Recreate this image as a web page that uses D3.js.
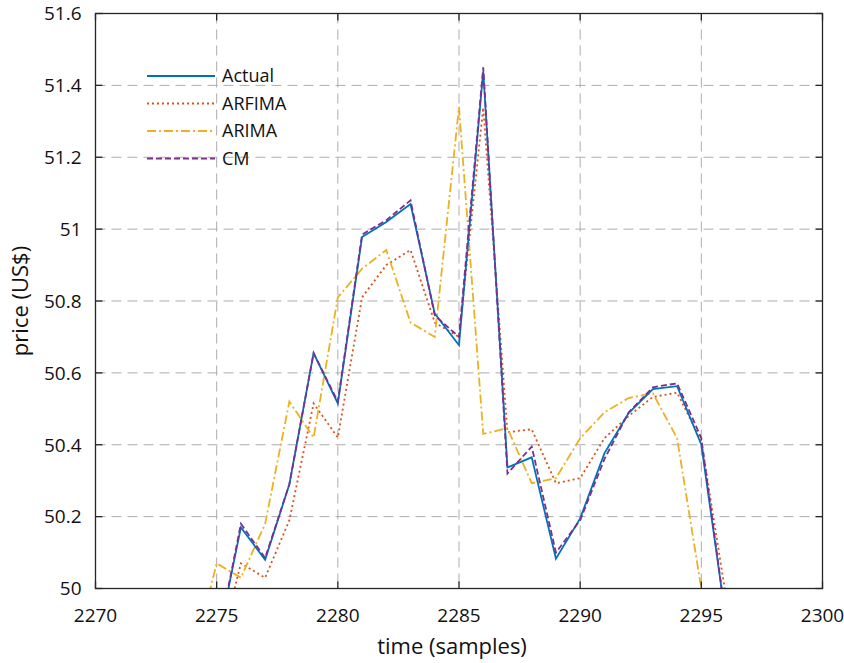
<!DOCTYPE html>
<html>
<head>
<meta charset="utf-8">
<script src="https://cdn.jsdelivr.net/npm/d3@7"></script>
<style>
  html, body { margin: 0; padding: 0; background: #fff; }
  svg { display: block; font-family: "Open Sans", "Noto Sans", sans-serif; }
</style>
</head>
<body>
<svg id="chart" width="844" height="663"></svg>
<script>
// Forecast comparison: price series against sample index
const samples = d3.range(2274, 2297);
const actual = [49.70, 49.84, 50.17, 50.08, 50.29, 50.655, 50.515, 50.978, 51.02, 51.07, 50.765, 50.677,
                51.44, 50.337, 50.365, 50.083, 50.195, 50.376, 50.488, 50.555, 50.563, 50.40, 49.92];
const arfima = [49.60, 49.80, 50.07, 50.03, 50.19, 50.515, 50.42, 50.81, 50.90, 50.942, 50.74, 50.70,
                51.338, 50.435, 50.443, 50.293, 50.307, 50.418, 50.48, 50.533, 50.545, 50.41, 49.985];
const arima = [49.80, 50.07, 50.03, 50.18, 50.52, 50.42, 50.81, 50.89, 50.942, 50.74, 50.70, 51.34,
               50.43, 50.446, 50.293, 50.307, 50.418, 50.49, 50.53, 50.543, 50.418, 50.0, 49.70];
const cm = [49.70, 49.84, 50.18, 50.085, 50.29, 50.655, 50.52, 50.985, 51.025, 51.08, 50.76, 50.70,
            51.45, 50.32, 50.395, 50.10, 50.19, 50.36, 50.49, 50.56, 50.571, 50.418, 49.92];

const xTicks = [2270, 2275, 2280, 2285, 2290, 2295, 2300];
const yTicks = [50, 50.2, 50.4, 50.6, 50.8, 51, 51.2, 51.4, 51.6];
const seriesNames = ["Actual", "ARFIMA", "ARIMA", "CM"];

const seriesStyle = {
  "Actual": { color: "#0072BD", dash: null },
  "ARFIMA": { color: "#D95319", dash: "2,3" },
  "ARIMA":  { color: "#EDB120", dash: "9,3,2,3" },
  "CM":     { color: "#7E2F8E", dash: "6,3" }
};
const seriesData = { "Actual": actual, "ARFIMA": arfima, "ARIMA": arima, "CM": cm };

const svg = d3.select("#chart");
const box = { left: 95.5, right: 822.5, top: 13.5, bottom: 588.5 };

const x = d3.scaleLinear().domain([2270, 2300]).range([box.left, box.right]);
const y = d3.scaleLinear().domain([50, 51.6]).range([box.bottom, box.top]);

// Grid
const grid = svg.append("g").attr("stroke", "#adadad").attr("stroke-width", 1)
  .attr("stroke-dasharray", "10,6");
xTicks.slice(1, -1).forEach(t => {
  grid.append("line").attr("x1", x(t)).attr("x2", x(t)).attr("y1", box.top).attr("y2", box.bottom);
});
yTicks.slice(1, -1).forEach(t => {
  grid.append("line").attr("x1", box.left).attr("x2", box.right).attr("y1", y(t)).attr("y2", y(t));
});

// Series lines, clipped to the plot box
svg.append("clipPath").attr("id", "plotclip")
  .append("rect").attr("x", box.left).attr("y", box.top)
  .attr("width", box.right - box.left).attr("height", box.bottom - box.top);

const lineGen = d3.line().x(d => x(d[0])).y(d => y(d[1]));
const plot = svg.append("g").attr("clip-path", "url(#plotclip)");
["ARFIMA", "ARIMA", "Actual", "CM"].forEach(name => {
  const pts = samples.map((s, i) => [s, seriesData[name][i]]);
  plot.append("path")
    .datum(pts)
    .attr("d", lineGen)
    .attr("fill", "none")
    .attr("stroke", seriesStyle[name].color)
    .attr("stroke-width", 1.8)
    .attr("stroke-dasharray", seriesStyle[name].dash)
    .attr("stroke-linejoin", "miter");
});

// Axes box with inward ticks
const axisColor = "#262626";
const tickLen = 7;
const ax = svg.append("g").attr("stroke", axisColor).attr("stroke-width", 1.3);
ax.append("rect").attr("x", box.left).attr("y", box.top)
  .attr("width", box.right - box.left).attr("height", box.bottom - box.top)
  .attr("fill", "none");
xTicks.forEach(t => {
  ax.append("line").attr("x1", x(t)).attr("x2", x(t)).attr("y1", box.bottom).attr("y2", box.bottom - tickLen);
  ax.append("line").attr("x1", x(t)).attr("x2", x(t)).attr("y1", box.top).attr("y2", box.top + tickLen);
});
yTicks.forEach(t => {
  ax.append("line").attr("x1", box.left).attr("x2", box.left + tickLen).attr("y1", y(t)).attr("y2", y(t));
  ax.append("line").attr("x1", box.right).attr("x2", box.right - tickLen).attr("y1", y(t)).attr("y2", y(t));
});

// Tick labels
const fmtY = d => (Number.isInteger(d) ? String(d) : d.toFixed(1));
svg.append("g").selectAll("text").data(yTicks).join("text")
  .attr("x", box.left - 14).attr("y", d => y(d)).attr("dy", "0.36em")
  .attr("text-anchor", "end").attr("font-size", 19).attr("fill", "#111")
  .text(fmtY);
svg.append("g").selectAll("text").data(xTicks).join("text")
  .attr("x", d => x(d)).attr("y", box.bottom + 33)
  .attr("text-anchor", "middle").attr("font-size", 19).attr("fill", "#111")
  .text(d => d);

// Axis titles
svg.append("text").attr("x", 452).attr("y", 654)
  .attr("text-anchor", "middle").attr("font-size", 22).attr("fill", "#111")
  .text("time (samples)");
svg.append("text").attr("transform", `translate(28,${(box.top + box.bottom) / 2}) rotate(-90)`)
  .attr("text-anchor", "middle").attr("font-size", 22).attr("fill", "#111")
  .text("price (US$)");

// Legend
const legend = svg.append("g");
seriesNames.forEach((name, i) => {
  const ly = 76 + i * 27.5;
  legend.append("line").attr("x1", 147).attr("x2", 215).attr("y1", ly).attr("y2", ly)
    .attr("stroke", seriesStyle[name].color).attr("stroke-width", 1.8)
    .attr("stroke-dasharray", seriesStyle[name].dash);
  legend.append("text").attr("x", 222).attr("y", ly).attr("dy", "0.36em")
    .attr("font-size", 18).attr("fill", "#111").text(name);
});
</script>
</body>
</html>
